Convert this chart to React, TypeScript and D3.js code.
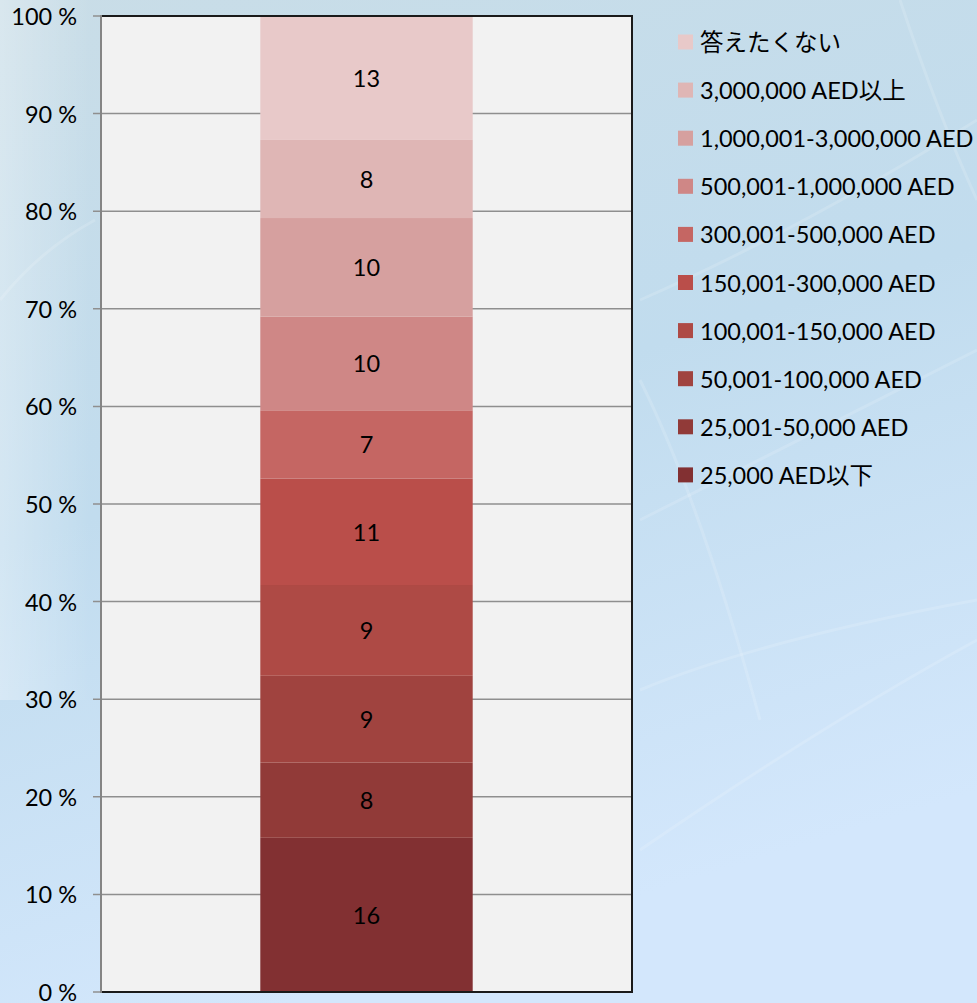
import React from "react";
import * as d3 from "d3";

const categories = [
  "25,000 AED以下",
  "25,001-50,000 AED",
  "50,001-100,000 AED",
  "100,001-150,000 AED",
  "150,001-300,000 AED",
  "300,001-500,000 AED",
  "500,001-1,000,000 AED",
  "1,000,001-3,000,000 AED",
  "3,000,000 AED以上",
  "答えたくない",
];
const values = [15.8, 7.7, 8.9, 9.3, 10.9, 7.0, 9.6, 10.1, 8.0, 12.7];
const colors = [
  "#823032",
  "#913a38",
  "#a0433f",
  "#ae4a45",
  "#ba4e4a",
  "#c56663",
  "#cf8786",
  "#d6a09f",
  "#dfb6b5",
  "#e8c9c9",
];
const yTicks = [0, 10, 20, 30, 40, 50, 60, 70, 80, 90, 100];
const barGroup = ["all"];

const W = 977;
const H = 1003;
const plot = { left: 101, right: 632, top: 16, bottom: 992 };
const FONT = "Lato, 'Noto Sans CJK JP', sans-serif";

export default function App() {
  const y = d3.scaleLinear().domain([0, 100]).range([plot.bottom, plot.top]);
  const x = d3
    .scaleBand()
    .domain(barGroup)
    .range([plot.left, plot.right])
    .paddingInner(0)
    .paddingOuter(0.75);

  const total = d3.sum(values);
  const stack = d3
    .stack<number[]>()
    .keys(d3.range(values.length) as any)
    .value((d, k) => (d[k as any] / total) * 100);
  const series = stack([values]);

  const bx = x("all")!;
  const bw = x.bandwidth();

  const legendX = 678;
  const legendY0 = 42;
  const legendStep = 48.1;
  const legendItems = categories.map((c, i) => ({ c, color: colors[i] })).reverse();

  return (
    <svg
      width={W}
      height={H}
      style={{ position: "absolute", left: 0, top: 0 }}
      fontFamily={FONT}
    >
      <defs>
        <linearGradient id="bg" x1="0" y1="0" x2="0.3" y2="1">
          <stop offset="0" stopColor="#c9dde7" />
          <stop offset="0.5" stopColor="#c1dcee" />
          <stop offset="1" stopColor="#d3e7fc" />
        </linearGradient>
        <linearGradient id="streak" x1="0" y1="0" x2="1" y2="0">
          <stop offset="0" stopColor="#ffffff" stopOpacity="0.5" />
          <stop offset="1" stopColor="#ffffff" stopOpacity="0" />
        </linearGradient>
      </defs>
      <rect x={0} y={0} width={W} height={H} fill="url(#bg)" />
      <rect x={0} y={0} width={90} height={700} fill="url(#streak)" opacity={0.6} />
      <g fill="none" stroke="#ffffff" strokeOpacity={0.15} strokeWidth={3}>
        <path d="M640,300 Q800,230 977,120" />
        <path d="M640,520 Q820,430 977,350" />
        <path d="M640,850 Q830,720 977,640" />
        <path d="M640,690 Q760,640 977,600" />
        <path d="M900,0 Q940,120 977,200" />
        <path d="M640,380 Q700,500 760,720" />
        <path d="M0,300 Q40,250 95,220" />
      </g>

      <rect
        x={plot.left}
        y={plot.top}
        width={plot.right - plot.left}
        height={plot.bottom - plot.top}
        fill="#f2f2f2"
      />

      {yTicks.map((t) => (
        <g key={t}>
          <line
            x1={93}
            x2={plot.right}
            y1={y(t)}
            y2={y(t)}
            stroke="#8f8f8f"
            strokeWidth={1.5}
          />
          <text
            x={77}
            y={y(t)}
            textAnchor="end"
            dominantBaseline="central"
            fontSize={23.5}
            fill="#000"
          >
            {`${t} %`}
          </text>
        </g>
      ))}

      {series.map((s, i) => {
        const d = s[0];
        return (
          <rect
            key={i}
            x={bx}
            width={bw}
            y={y(d[1])}
            height={y(d[0]) - y(d[1])}
            fill={colors[i]}
          />
        );
      })}

      {series.map((s, i) => {
        const d = s[0];
        return (
          <text
            key={i}
            x={bx + bw / 2}
            y={(y(d[0]) + y(d[1])) / 2}
            textAnchor="middle"
            dominantBaseline="central"
            fontSize={23.5}
            fill="#000"
          >
            {Math.round(values[i])}
          </text>
        );
      })}

      <line x1={plot.left} x2={plot.right + 1} y1={plot.top} y2={plot.top} stroke="#1a1a1a" strokeWidth={2} />
      <line x1={plot.right} x2={plot.right} y1={plot.top} y2={plot.bottom} stroke="#1a1a1a" strokeWidth={2} />
      <line x1={plot.left} x2={plot.right + 1} y1={plot.bottom} y2={plot.bottom} stroke="#1a1a1a" strokeWidth={2} />
      <line x1={plot.left} x2={plot.left} y1={plot.top - 1} y2={plot.bottom + 1} stroke="#858585" strokeWidth={2} />

      {legendItems.map((it, i) => {
        const cy = legendY0 + i * legendStep;
        return (
          <g key={it.c}>
            <rect x={legendX} y={cy - 7.5} width={15} height={15} fill={it.color} />
            <text
              x={700}
              y={cy}
              dominantBaseline="central"
              fontSize={23.5}
              fill="#000"
            >
              {it.c}
            </text>
          </g>
        );
      })}
    </svg>
  );
}
